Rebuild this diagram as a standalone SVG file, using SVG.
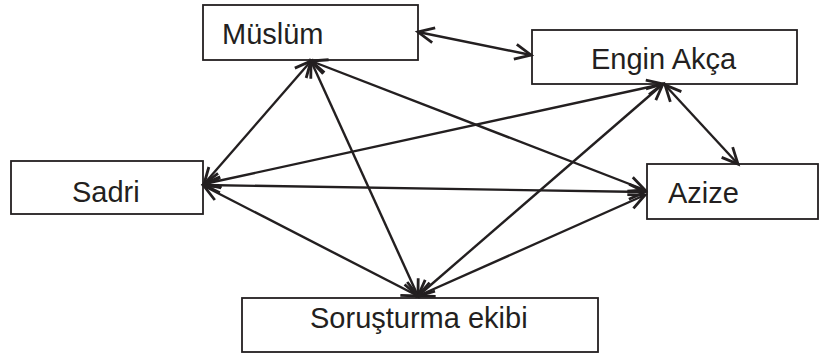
<svg xmlns="http://www.w3.org/2000/svg" width="824" height="353" viewBox="0 0 824 353">
<style>
.box{fill:#fff;stroke:#231f20;stroke-width:1.8}
.lbl{font-family:"Liberation Sans",Arial,sans-serif;font-size:29px;fill:#231f20}
.edge{stroke:#231f20;stroke-width:2.4;fill:none;marker-start:url(#ah);marker-end:url(#ah)}
</style>
<defs>
<marker id="ah" markerUnits="userSpaceOnUse" viewBox="-17 -9 19 18" refX="0" refY="0" markerWidth="19" markerHeight="18" orient="auto-start-reverse" overflow="visible">
<path d="M-16,-7.5 L0,0 L-16,7.5" fill="none" stroke="#231f20" stroke-width="2.8"/>
</marker>
</defs>
<g id="nodes">
<g id="muslum"><rect class="box" x="203" y="5" width="215" height="55"/><text class="lbl" x="222" y="44">Müslüm</text></g>
<g id="engin"><rect class="box" x="532" y="30" width="265" height="54"/><text class="lbl" x="591" y="69">Engin Akça</text></g>
<g id="sadri"><rect class="box" x="11" y="161" width="192" height="53"/><text class="lbl" x="72" y="202">Sadri</text></g>
<g id="azize"><rect class="box" x="647" y="164" width="171" height="55"/><text class="lbl" x="668" y="203">Azize</text></g>
<g id="sorusturma"><rect class="box" x="242" y="298" width="356" height="54"/><text class="lbl" x="310" y="328">Soruşturma ekibi</text></g>
</g>
<g id="connectors">
<line class="edge" x1="418" y1="32" x2="531" y2="55"/>
<line class="edge" x1="665" y1="85" x2="738" y2="164"/>
<line class="edge" x1="204" y1="184" x2="311" y2="61"/>
<line class="edge" x1="311" y1="61" x2="418" y2="296"/>
<line class="edge" x1="311" y1="61" x2="645" y2="190"/>
<line class="edge" x1="204" y1="184" x2="663" y2="84"/>
<line class="edge" x1="204" y1="185" x2="645" y2="192"/>
<line class="edge" x1="204" y1="186" x2="418" y2="296"/>
<line class="edge" x1="663" y1="84" x2="418" y2="296"/>
<line class="edge" x1="645" y1="195" x2="418" y2="296"/>
</g>
</svg>
